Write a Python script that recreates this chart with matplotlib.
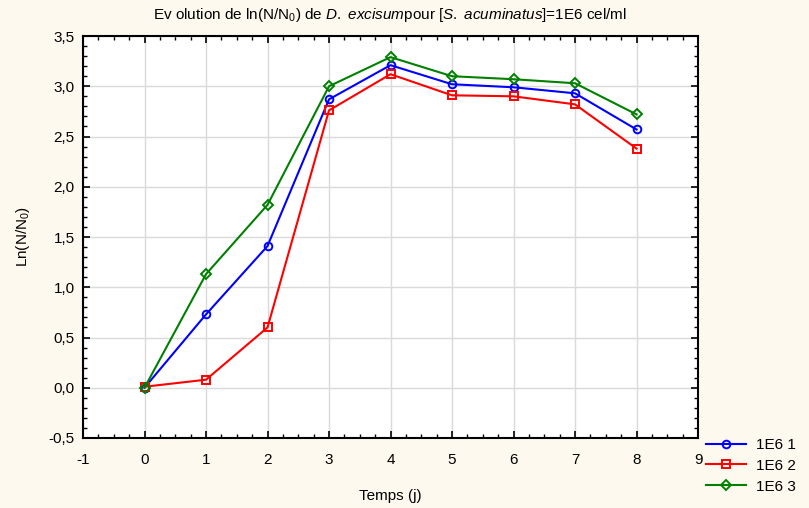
import matplotlib
matplotlib.use("Agg")
import matplotlib.pyplot as plt
from matplotlib.ticker import MultipleLocator, FuncFormatter

plt.rcParams['font.family'] = ['Liberation Sans', 'DejaVu Sans']
plt.rcParams['mathtext.fontset'] = 'custom'
plt.rcParams['mathtext.rm'] = 'Liberation Sans'
plt.rcParams['mathtext.it'] = 'Liberation Sans:italic'

days = [0, 1, 2, 3, 4, 5, 6, 7, 8]
serie1 = [0.0, 0.73, 1.41, 2.87, 3.21, 3.02, 2.99, 2.93, 2.57]
serie2 = [0.01, 0.08, 0.60, 2.76, 3.12, 2.91, 2.90, 2.82, 2.38]
serie3 = [0.0, 1.13, 1.82, 3.00, 3.29, 3.10, 3.07, 3.03, 2.72]
labels = ['1E6 1', '1E6 2', '1E6 3']

bg = '#FDF9EE'
fig = plt.figure(figsize=(8.09, 5.08), dpi=100, facecolor=bg)
ax = fig.add_axes([0.1026, 0.1378, 0.7602, 0.7913])
ax.set_facecolor('white')

h1, = ax.plot(days, serie1, color='#0000FF', marker='o', mfc='none', mec='#0000FF', ms=5.5, mew=1.4, lw=1.5, label=labels[0])
h2, = ax.plot(days, serie2, color='#FF0000', marker='s', mfc='none', mec='#FF0000', ms=5.5, mew=1.4, lw=1.5, label=labels[1])
h3, = ax.plot(days, serie3, color='#008000', marker='D', mfc='none', mec='#008000', ms=5.5, mew=1.4, lw=1.5, label=labels[2])

ax.set_xlim(-1, 9)
ax.set_ylim(-0.5, 3.5)
ax.xaxis.set_major_locator(MultipleLocator(1))
ax.xaxis.set_minor_locator(MultipleLocator(0.25))
ax.yaxis.set_major_locator(MultipleLocator(0.5))
ax.yaxis.set_minor_locator(MultipleLocator(0.1))
ax.yaxis.set_major_formatter(FuncFormatter(lambda v, p: f"{v:.1f}".replace('.', ',')))
ax.xaxis.set_major_formatter(FuncFormatter(lambda v, p: f"{v:.0f}"))
ax.tick_params(which='both', direction='in', top=True, right=True, labelsize=11, color='black')
ax.tick_params(which='major', length=5, width=1.2)
ax.tick_params(which='minor', length=3, width=1)
ax.tick_params(axis='x', pad=11)
ax.tick_params(axis='y', pad=6)
ax.grid(True, which='major', color='#DADADA', lw=1)
ax.set_axisbelow(True)
for s in ax.spines.values():
    s.set_linewidth(1.5)
    s.set_color('black')

ax.set_xlabel('Temps (j)', fontsize=11, labelpad=16)
ax.set_ylabel('Ln(N/N$_0$)', fontsize=11, labelpad=12)
ax.set_title(r'Ev olution de ln(N/N$_0$) de $D.$ $excisum$pour [$S.$ $acuminatus$]=1E6 cel/ml', fontsize=11, pad=12)

fig.legend(handles=[h1, h2, h3], loc='upper left', bbox_to_anchor=(0.865, 0.15), frameon=False,
           fontsize=11, handlelength=2.6, labelspacing=0.45, borderaxespad=0, handletextpad=0.7)

fig.savefig('out.png', dpi=100, facecolor=bg)
